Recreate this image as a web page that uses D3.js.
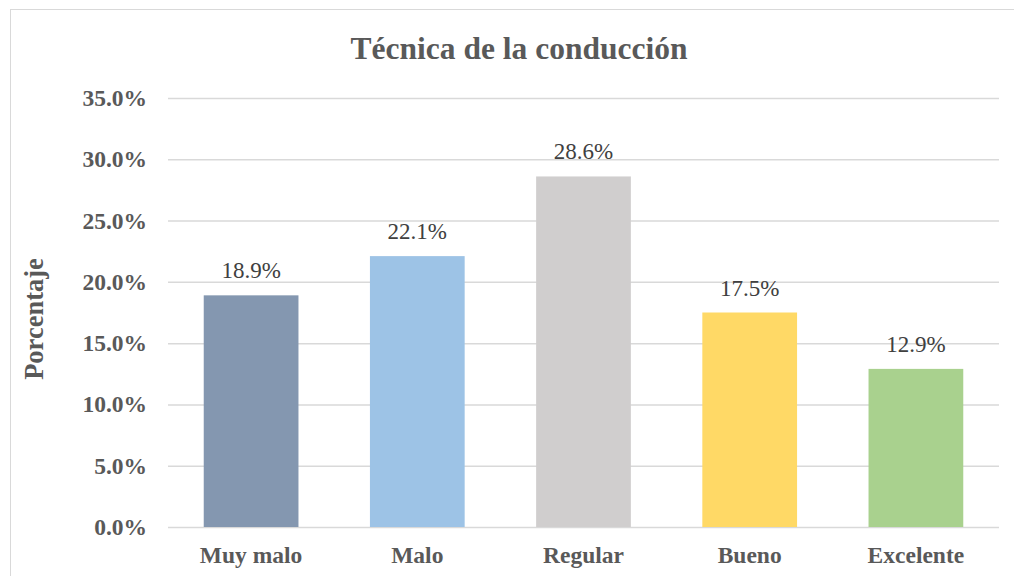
<!DOCTYPE html>
<html>
<head>
<meta charset="utf-8">
<script src="https://cdn.jsdelivr.net/npm/d3@7"></script>
<style>
  body { margin: 0; background: #fff; }
  svg { display: block; }
  .tick text { font-family: "Liberation Serif", "Times New Roman", serif; }
</style>
</head>
<body>
<div class="container"></div>
<script>
const categories = ["Muy malo", "Malo", "Regular", "Bueno", "Excelente"];
const values = [18.9, 22.1, 28.6, 17.5, 12.9];
const barColors = ["#8497B0", "#9DC3E6", "#D0CECE", "#FFD966", "#A9D18E"];
const yTicks = [0, 5, 10, 15, 20, 25, 30, 35];
const chartTitle = "Técnica de la conducción";
const yTitle = "Porcentaje";

const w = 1014;
const h = 576;
const plotLeft = 168, plotRight = 999, plotTop = 98, plotBottom = 527;
const textColor = "#595959";
const font = "'Liberation Serif', 'Times New Roman', serif";

const svg = d3.select(".container")
  .append("svg")
  .attr("width", w)
  .attr("height", h);

// chart border (runs off the right and bottom edges)
svg.append("rect")
  .attr("x", 10.5)
  .attr("y", 9.5)
  .attr("width", 1030)
  .attr("height", 600)
  .attr("fill", "none")
  .attr("stroke", "#D9D9D9")
  .attr("stroke-width", 1);

const xScale = d3.scaleBand()
  .domain(categories)
  .range([plotLeft, plotRight])
  .paddingInner(0.43)
  .paddingOuter(0.215);

const yScale = d3.scaleLinear()
  .domain([0, 35])
  .range([plotBottom, plotTop]);

// gridlines
const yAxis = d3.axisLeft(yScale)
  .tickValues(yTicks)
  .tickSize(-(plotRight - plotLeft))
  .tickPadding(21)
  .tickFormat(d => d.toFixed(1) + "%");

const gy = svg.append("g")
  .attr("transform", "translate(" + plotLeft + ",0)")
  .call(yAxis);
gy.select(".domain").remove();
gy.selectAll(".tick line")
  .attr("stroke", "#D9D9D9")
  .attr("stroke-width", 1.5);
gy.selectAll(".tick text")
  .attr("fill", textColor)
  .attr("font-size", "23.5px")
  .attr("font-weight", "bold");

// bars
svg.selectAll("rect.bar")
  .data(values)
  .enter()
  .append("rect")
  .attr("class", "bar")
  .attr("x", (d, i) => xScale(categories[i]))
  .attr("y", d => yScale(d))
  .attr("width", xScale.bandwidth())
  .attr("height", d => yScale(0) - yScale(d))
  .attr("fill", (d, i) => barColors[i]);

// value labels
svg.selectAll("text.val")
  .data(values)
  .enter()
  .append("text")
  .attr("class", "val")
  .attr("x", (d, i) => xScale(categories[i]) + xScale.bandwidth() / 2)
  .attr("y", d => yScale(d) - 17)
  .attr("text-anchor", "middle")
  .attr("font-family", font)
  .attr("font-size", "23px")
  .attr("fill", "#404040")
  .text(d => d.toFixed(1) + "%");

// x axis labels
const xAxis = d3.axisBottom(xScale).tickSize(0).tickPadding(19);
const gx = svg.append("g")
  .attr("transform", "translate(0," + plotBottom + ")")
  .call(xAxis);
gx.select(".domain").remove();
gx.selectAll(".tick text")
  .attr("fill", textColor)
  .attr("font-size", "23.5px")
  .attr("font-weight", "bold");

// title
svg.append("text")
  .attr("x", 519)
  .attr("y", 59)
  .attr("text-anchor", "middle")
  .attr("font-family", font)
  .attr("font-size", "31.5px")
  .attr("font-weight", "bold")
  .attr("fill", textColor)
  .text(chartTitle);

// y axis title
svg.append("text")
  .attr("transform", "translate(43,319) rotate(-90)")
  .attr("text-anchor", "middle")
  .attr("font-family", font)
  .attr("font-size", "26.5px")
  .attr("font-weight", "bold")
  .attr("fill", textColor)
  .text(yTitle);
</script>
</body>
</html>
